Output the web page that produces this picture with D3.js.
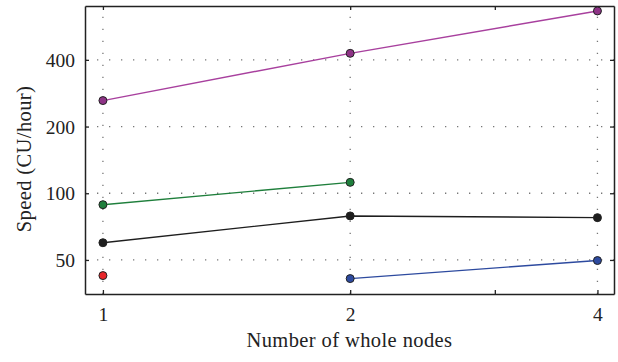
<!DOCTYPE html>
<html>
<head>
<meta charset="utf-8">
<script src="https://cdn.jsdelivr.net/npm/d3@7"></script>
<style>
  html, body { margin: 0; padding: 0; background: #fff; }
  svg text { font-family: "Liberation Serif", "DejaVu Serif", serif; fill: #222; }
</style>
</head>
<body>
<svg id="chart" width="618" height="362"></svg>
<script>
// Node counts on the x axis and labelled ticks
const nodes = [1, 2, 4];
const xTicks = [1, 2, 4];
const xMinorTicks = [3];
const yTicks = [50, 100, 200, 400];

// Speed (CU/hour) per series; null where no run exists
const purpleSpeed = [262, 428, 665];
const greenSpeed = [88.8, 112, null];
const blackSpeed = [59.8, 79, 77.6];
const redSpeed = [42.5, null, null];
const blueSpeed = [null, 41.2, 49.7];

const series = [
  { values: purpleSpeed, line: "#a8409e", fill: "#8e3386" },
  { values: greenSpeed, line: "#1f7f3c", fill: "#1f7f3c" },
  { values: blackSpeed, line: "#1e1e1e", fill: "#1e1e1e" },
  { values: redSpeed, line: "#e02a2a", fill: "#e8262a" },
  { values: blueSpeed, line: "#2d4a9f", fill: "#2d4a9f" }
];

const svg = d3.select("#chart");
const margin = { left: 85, right: 4, top: 6, bottom: 68 };
const W = 618, H = 362;
const x0 = margin.left, x1 = W - margin.right;
const y0 = margin.top, y1 = H - margin.bottom;

const x = d3.scaleLog().base(2).domain([0.951, 4.19]).range([x0, x1]);
const y = d3.scaleLog().base(2).domain([35.1, 700]).range([y1, y0]);

// Dotted grid
const grid = svg.append("g").attr("stroke", "#777").attr("stroke-width", 1.3)
  .attr("stroke-dasharray", "1.3,10.7");
grid.selectAll("line.gx").data(xTicks).join("line")
  .attr("x1", d => x(d)).attr("x2", d => x(d))
  .attr("y1", y1).attr("y2", y0);
grid.selectAll("line.gy").data(yTicks).join("line")
  .attr("y1", d => y(d)).attr("y2", d => y(d))
  .attr("x1", x0).attr("x2", x1);

// Axes with inward ticks on all four sides
const tickLen = 4;
const axBottom = svg.append("g").attr("transform", `translate(0,${y1})`)
  .call(d3.axisBottom(x).tickValues(xTicks).tickFormat(d3.format("d")).tickSizeInner(-tickLen).tickSizeOuter(0).tickPadding(13));
const axTop = svg.append("g").attr("transform", `translate(0,${y0})`)
  .call(d3.axisTop(x).tickValues(xTicks).tickFormat("").tickSizeInner(-tickLen).tickSizeOuter(0));
const axLeft = svg.append("g").attr("transform", `translate(${x0},0)`)
  .call(d3.axisLeft(y).tickValues(yTicks).tickFormat(d3.format("d")).tickSizeInner(-tickLen).tickSizeOuter(0).tickPadding(10));
const axRight = svg.append("g").attr("transform", `translate(${x1},0)`)
  .call(d3.axisRight(y).tickValues(yTicks).tickFormat("").tickSizeInner(-tickLen).tickSizeOuter(0));
// Minor ticks at 3 nodes
svg.append("g").attr("transform", `translate(0,${y1})`)
  .call(d3.axisBottom(x).tickValues(xMinorTicks).tickFormat("").tickSizeInner(-tickLen).tickSizeOuter(0))
  .select(".domain").remove();
svg.append("g").attr("transform", `translate(0,${y0})`)
  .call(d3.axisTop(x).tickValues(xMinorTicks).tickFormat("").tickSizeInner(-tickLen).tickSizeOuter(0))
  .select(".domain").remove();

[axBottom, axTop, axLeft, axRight].forEach(g => {
  g.select(".domain").attr("stroke", "#222").attr("stroke-width", 1.5);
  g.selectAll(".tick text").attr("font-size", 19.5).attr("fill", "#222")
    .style("font-family", "'Liberation Serif', serif");
});
svg.selectAll(".tick line").attr("stroke", "#222").attr("stroke-width", 1.3);
axLeft.selectAll(".tick text").attr("dy", "0.34em");

// Series lines and markers
const line = d3.line()
  .defined(d => d.v != null)
  .x(d => x(d.n)).y(d => y(d.v));

series.forEach(s => {
  const pts = nodes.map((n, i) => ({ n, v: s.values[i] }));
  svg.append("path").datum(pts)
    .attr("d", line)
    .attr("fill", "none")
    .attr("stroke", s.line)
    .attr("stroke-width", 1.4);
  svg.append("g").selectAll("circle")
    .data(pts.filter(d => d.v != null)).join("circle")
    .attr("cx", d => x(d.n)).attr("cy", d => y(d.v))
    .attr("r", 4)
    .attr("fill", s.fill)
    .attr("stroke", "#222")
    .attr("stroke-width", 1);
});

// Axis titles
svg.append("text")
  .attr("x", (x0 + x1) / 2).attr("y", 347)
  .attr("text-anchor", "middle").attr("font-size", 20.5)
  .attr("letter-spacing", 0.4)
  .text("Number of whole nodes");
svg.append("text")
  .attr("transform", `translate(31,${(y0 + y1) / 2 + 9}) rotate(-90)`)
  .attr("text-anchor", "middle").attr("font-size", 20.5)
  .attr("letter-spacing", 0.4)
  .text("Speed (CU/hour)");
</script>
</body>
</html>
